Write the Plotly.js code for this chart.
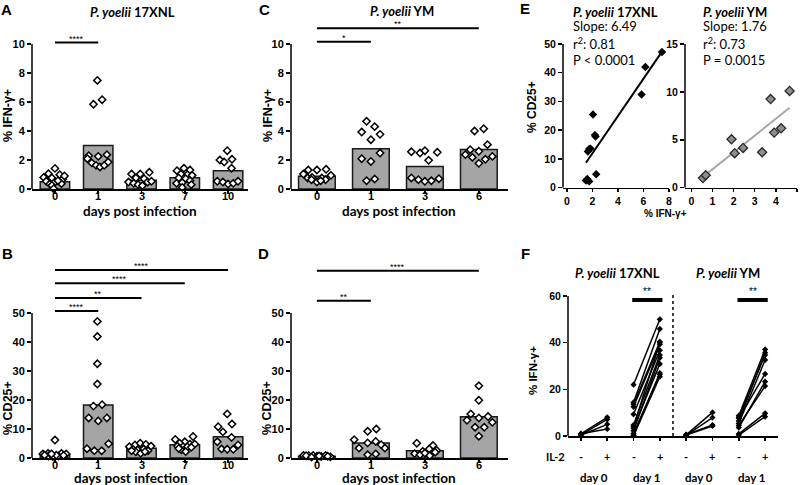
<!DOCTYPE html>
<html><head><meta charset="utf-8">
<script src="https://cdn.plot.ly/plotly-3.0.1.min.js"></script>
<style>html,body{margin:0;padding:0;background:#fff}#chart{width:800px;height:485px}</style>
</head><body><div id="chart"></div>
<script>
// ================= DATA =================
// Panel A : % IFN-g+  P. yoelii 17XNL
const daysA = ['0','1','3','7','10'];
const barsA = [0.5, 3.0, 0.6, 0.78, 1.25];
const valsA = [
 [1.42,1.06,0.99,0.8,0.76,0.67,0.53,0.48,0.37,0.34,0.57,0.25,0.02,0.9],
 [7.49,5.84,6.16,2.3,2.25,2.37,2.09,1.8,1.63,1.52,1.63,1.86],
 [1.03,1.03,1.15,0.76,0.71,0.48,0.39,0.48,0.53,0.3,0.23],
 [1.43,1.26,1.31,1.03,0.99,0.94,0.76,0.71,0.39,0.44,0.57,0.3,0.11],
 [2.64,2.0,1.86,2.05,1.43,0.53,0.48,0.34,0.39,0.53]
];
const jitA = [
 [0,-0.15,0.11,-0.26,-0.07,0.18,-0.2,0,0.15,-0.12,0.07,-0.07,-0.03,0.22],
 [-0.02,-0.11,0.09,-0.22,0,0.2,-0.25,-0.15,-0.05,0.04,0.14,0.23],
 [-0.23,-0.03,0.18,-0.13,0.06,-0.3,-0.18,0.14,0.23,-0.08,0.02],
 [-0.02,-0.18,0.12,-0.09,0.06,0.17,-0.14,0.02,-0.19,-0.06,0.12,0.15,-0.06],
 [-0.02,-0.19,-0.09,0.09,0.08,-0.25,-0.12,0,0.12,0.23]
];
const sigAFrom = [0], sigATo = [1], sigAY = [10.1], sigALab = ['****'];

// Panel B : % CD25+  P. yoelii 17XNL
const daysB = ['0','1','3','7','10'];
const barsB = [1.3, 18.3, 3.4, 4.6, 7.3];
const valsB = [
 [6.2,1.4,1.6,1.6,1.4,0.7,0.5,0.7,1.0,1.0,0.9,1.4],
 [47.1,41.9,32.5,25.5,17.9,18.4,13.8,12.8,13.8,3.2,2.5,2.5,4.9],
 [3.9,4.5,5.1,4.7,4.1,3.0,2.8,3.1,2.5,2.1,1.6,2.2,2.5],
 [7.4,6.4,5.6,5.1,4.8,4.1,3.9,3.9,4.8,2.8,2.2,3.3,3.7],
 [15.2,10.8,11.7,9.0,7.1,5.6,4.5,3.1,3.0,3.0]
];
const jitB = [
 [0,-0.28,-0.16,0.15,0.26,-0.15,-0.05,0.08,-0.24,0.03,0.2,-0.08],
 [-0.02,-0.02,-0.02,-0.02,-0.11,0.09,-0.22,0,0.2,-0.26,-0.09,0.08,0.24],
 [-0.28,-0.15,-0.03,0.1,0.22,-0.2,-0.09,0.05,0.15,-0.13,-0.02,0.08,-0.23],
 [0.19,-0.22,0,-0.12,0.12,-0.17,-0.04,0.06,0.23,-0.08,0.02,-0.14,0.15],
 [-0.02,-0.23,0.09,-0.12,0.08,-0.25,0.23,-0.15,-0.02,0.12]
];
const sigBFrom = [0,0,0,0], sigBTo = [1,2,3,4], sigBY = [50.7,55.2,60.3,64.8];
const sigBLab = ['****','**','****','****'];

// Panel C : % IFN-g+  P. yoelii YM
const daysC = ['0','1','3','6'];
const barsC = [0.88, 2.78, 1.55, 2.72];
const valsC = [
 [1.31,1.31,1.36,1.03,0.94,0.76,0.8,0.76,0.64,0.48,0.57,0.64],
 [4.67,4.3,3.93,3.77,3.4,2.48,2.09,1.9,0.57,0.69],
 [2.57,2.48,2.64,2.53,1.98,0.76,0.64,0.53,0.57,0.71],
 [4.0,4.16,3.06,2.71,2.6,2.37,2.18,2.25,2.05,1.77]
];
const jitC = [
 [-0.16,0,0.17,-0.25,0.26,-0.17,-0.09,0.09,0.16,0,0.07,-0.1],
 [-0.08,0.07,-0.17,0.17,0,0.17,-0.17,0,-0.08,0.07],
 [-0.25,-0.09,0,0.23,0.07,-0.25,-0.12,0,0.12,0.26],
 [-0.08,0.09,0.16,-0.16,0,-0.25,-0.12,0.25,0.12,0]
];
const sigCFrom = [0,0], sigCTo = [1,3], sigCY = [10.16,11.08], sigCLab = ['*','**'];

// Panel D : % CD25+  P. yoelii YM
const daysD = ['0','1','3','6'];
const barsD = [0.6, 5.2, 2.5, 14.2];
const valsD = [
 [0.9,0.8,0.9,0.6,0.5,0.9,0.4,0.8,0.7,0.3,0.6],
 [10.0,9.2,6.3,3.4,5.2,5.7,4.6,3.4,1.1,1.4],
 [5.1,4.3,3.1,2.3,1.5,1.1,2.6,0.8,2.0,1.7],
 [24.9,19.9,15.2,13.0,13.8,14.3,12.3,10.6,10.6,7.5]
];
const jitD = [
 [-0.25,-0.15,-0.07,0,0.08,0.16,0.25,-0.2,0.04,-0.1,0.2],
 [0.1,-0.06,-0.31,-0.22,-0.06,0.09,0.19,0.26,-0.06,0.09],
 [-0.15,0.15,0.08,-0.04,-0.19,-0.09,0.22,0.09,0.19,0],
 [0,0,-0.15,-0.22,0,0.17,0.25,-0.07,0.1,0]
];
const sigDFrom = [0,0], sigDTo = [1,3], sigDY = [54.2,64.6], sigDLab = ['**','****'];

// Panel E : correlation % IFN-g+ vs % CD25+
const e17Ifn  = [7.45,6.15,5.85,2.05,2.2,2.25,1.65,1.75,1.85,2.3,1.5,1.6,1.75];
const e17Cd25 = [47.2,42.0,32.4,25.5,18.3,17.8,12.6,13.5,13.6,4.7,2.5,3.0,2.2];
const eYmIfn  = [0.55,0.68,1.9,2.05,2.45,3.35,3.75,3.92,4.25,4.65];
const eYmCd25 = [1.0,1.3,5.05,3.6,4.15,3.7,9.25,5.75,6.2,10.1];
const e17Stats = ['Slope: 6.49','r<sup>2</sup>: 0.81','P < 0.0001'];
const eYmStats = ['Slope: 1.76','r<sup>2</sup>: 0.73','P = 0.0015'];

// Panel F : % IFN-g+ with / without IL-2
const fSign = ['-','+','-','+','-','+','-','+'];
const fDays = ['day 0','day 1','day 0','day 1'];
const f17d0Pre  = [0.9,0.5,0.3,1.0];
const f17d0Post = [8.0,7.1,5.0,3.0];
const f17d1Pre  = [22.0,14.4,13.6,12.5,9.3,4.7,4.0,3.3,2.3,1.1,0.3,0.1];
const f17d1Post = [50.0,45.9,40.4,39.3,36.7,34.7,40.0,30.9,33.5,26.4,27.0,25.4];
const fYmd0Pre  = [0.5,0.3,0.6,0.4];
const fYmd0Post = [10.1,7.9,4.7,4.3];
const fYmd1Pre  = [8.7,6.4,8.0,5.4,7.6,3.6,4.5,0.9,0.4];
const fYmd1Post = [37.1,35.7,34.7,32.6,26.6,23.3,21.4,9.7,8.3];
const fSigFrom = [2,6], fSigTo = [3,7], fSigY = [58.3,58.3], fSigLab = ['**','**'];

// ================= BUILD =================
const W = 800, H = 485;
const fx = p => p / W;
const fy = p => 1 - p / H;
const BOLD = 'Liberation Sans, Arial, sans-serif';
const LATO = 'Lato, Open Sans, sans-serif';

const traces = [];
const shapes = [];
const annotations = [];

function dotPanel(ax, ay, bars, vals, jit) {
  traces.push({type:'bar', x: bars.map((_, i) => i), y: bars, width: 0.68,
    marker:{color:'#a5a5a5', line:{color:'#1a1a1a', width:1.5}},
    xaxis: ax, yaxis: ay, hoverinfo:'skip'});
  const xs = [], ys = [];
  vals.forEach((g, i) => g.forEach((v, k) => { xs.push(i + jit[i][k]); ys.push(v); }));
  traces.push({type:'scatter', mode:'markers', x: xs, y: ys, cliponaxis:false,
    marker:{symbol:'diamond', size:5.6, color:'#fff', line:{color:'#000', width:1.5}},
    xaxis: ax, yaxis: ay, hoverinfo:'skip'});
}
function sig(ax, ay, from, to, ys, labs, w, fs, shift) {
  ys.forEach((y, i) => {
    shapes.push({type:'line', xref: ax, yref: ay, x0: from[i], x1: to[i], y0: y, y1: y,
      line:{color:'#000', width: w}});
    annotations.push({xref: ax, yref: ay, x: (from[i] + to[i]) / 2, y: y, text: labs[i],
      showarrow:false, yanchor:'middle', yshift: shift, font:{family: BOLD, size: fs, color:'#000'}});
  });
}
function yLine(ax, ay, top) {
  shapes.push({type:'line', xref: ax + ' domain', yref: ay, x0: 0, x1: 0, y0: 0, y1: top,
    line:{color:'#000', width:1.5}});
}
function ann(px, py, text, size, family, extra) {
  annotations.push(Object.assign({xref:'paper', yref:'paper', x: fx(px), y: fy(py), text: text,
    showarrow:false, xanchor:'center', yanchor:'middle',
    font:{family: family, size: size, color:'#000'}}, extra || {}));
}
// category labels placed just under an axis (the axis title sits close below them)
function catLabels(ax, labels, py) {
  labels.forEach((t, i) => annotations.push({xref: ax, yref:'paper', x: i, y: fy(py), text: '<b>' + t + '</b>',
    showarrow:false, yanchor:'middle', borderpad:0, font:{family: BOLD, size: 11, color:'#000'}}));
}

dotPanel('x', 'y', barsA, valsA, jitA);
dotPanel('x2', 'y2', barsB, valsB, jitB);
dotPanel('x3', 'y3', barsC, valsC, jitC);
dotPanel('x4', 'y4', barsD, valsD, jitD);
sig('x', 'y', sigAFrom, sigATo, sigAY, sigALab, 2, 9, 4);
sig('x2', 'y2', sigBFrom, sigBTo, sigBY, sigBLab, 2, 9, 4);
sig('x3', 'y3', sigCFrom, sigCTo, sigCY, sigCLab, 2, 9, 4);
sig('x4', 'y4', sigDFrom, sigDTo, sigDY, sigDLab, 2, 9, 4);
yLine('x', 'y', 10); yLine('x2', 'y2', 50); yLine('x3', 'y3', 10); yLine('x4', 'y4', 50);
catLabels('x', daysA, 196);
catLabels('x3', daysC, 196);
catLabels('x2', daysB, 465);
catLabels('x4', daysD, 465);

// E scatter + least-squares fits
function fit(xs, ys) {
  const n = xs.length, mx = xs.reduce((a, b) => a + b) / n, my = ys.reduce((a, b) => a + b) / n;
  let sxy = 0, sxx = 0;
  xs.forEach((x, i) => { sxy += (x - mx) * (ys[i] - my); sxx += (x - mx) * (x - mx); });
  const b = sxy / sxx, a = my - b * mx;
  const x0 = Math.min(...xs), x1 = Math.max(...xs);
  return {x:[x0, x1], y:[a + b * x0, a + b * x1]};
}
const fit17 = fit(e17Ifn, e17Cd25), fitYm = fit(eYmIfn, eYmCd25);
traces.push({type:'scatter', mode:'lines', x: fit17.x, y: fit17.y, xaxis:'x5', yaxis:'y5',
  line:{color:'#000', width:2}, hoverinfo:'skip'});
traces.push({type:'scatter', mode:'markers', x: e17Ifn, y: e17Cd25, xaxis:'x5', yaxis:'y5', cliponaxis:false,
  marker:{symbol:'diamond', size:6.5, color:'#000'}, hoverinfo:'skip'});
traces.push({type:'scatter', mode:'lines', x: fitYm.x, y: fitYm.y, xaxis:'x6', yaxis:'y6',
  line:{color:'#a8a8a8', width:2}, hoverinfo:'skip'});
traces.push({type:'scatter', mode:'markers', x: eYmIfn, y: eYmCd25, xaxis:'x6', yaxis:'y6', cliponaxis:false,
  marker:{symbol:'diamond', size:7, color:'#8e8e8e', line:{color:'#2a2a2a', width:1.3}}, hoverinfo:'skip'});
yLine('x5', 'y5', 50); yLine('x6', 'y6', 15);

// F paired lines
function pairs(pre, post, c0) {
  const xs = [], ys = [];
  pre.forEach((v, i) => { xs.push(c0, c0 + 1, null); ys.push(v, post[i], null); });
  traces.push({type:'scatter', mode:'lines+markers', x: xs, y: ys, xaxis:'x7', yaxis:'y7', cliponaxis:false,
    line:{color:'#000', width:1.5}, marker:{symbol:'diamond', size:4.8, color:'#000'}, hoverinfo:'skip'});
}
pairs(f17d0Pre, f17d0Post, 0);
pairs(f17d1Pre, f17d1Post, 2);
pairs(fYmd0Pre, fYmd0Post, 4);
pairs(fYmd1Pre, fYmd1Post, 6);
sig('x7', 'y7', fSigFrom.map(v => v - 0.05), fSigTo.map(v => v + 0.1), fSigY, fSigLab, 4, 10, 8);
yLine('x7', 'y7', 60);
shapes.push({type:'line', xref:'x7', yref:'y7', x0:3.5, x1:3.5, y0:0, y1:60.5,
  line:{color:'#000', width:1.5, dash:'dot'}});
fSign.forEach((s, i) => annotations.push({xref:'x7', yref:'paper', x: i, y: fy(456), text: '<b>' + s + '</b>',
  showarrow:false, yanchor:'middle', font:{family: LATO, size: 11, color:'#000'}}));
fDays.forEach((d, i) => annotations.push({xref:'x7', yref:'paper', x: 2 * i + 0.5, y: fy(477), text: '<b>' + d + '</b>',
  showarrow:false, yanchor:'middle', borderpad:0, font:{family: LATO, size: 11.5, color:'#000'}}));

// Text annotations (letters, titles, axis titles)
[['A', 6, 9], ['B', 7, 253], ['C', 264, 9], ['D', 263, 253], ['E', 525, 8], ['F', 525, 253]]
  .forEach(l => ann(l[1], l[2], '<b>' + l[0] + '</b>', 15, BOLD));
ann(132, 12, '<b><i>P. yoelii</i> 17XNL</b>', 13, LATO);
ann(402, 11, '<b><i>P. yoelii</i> YM</b>', 13, LATO);
const xtitle = {borderpad:0};
ann(140, 211, '<b>days post infection</b>', 13.5, LATO, xtitle);
ann(399, 211, '<b>days post infection</b>', 13.5, LATO, xtitle);
ann(131, 477.5, '<b>days post infection</b>', 13.5, LATO, xtitle);
ann(399, 477.5, '<b>days post infection</b>', 13.5, LATO, xtitle);
ann(8, 116, '<b>% IFN-γ+</b>', 12.5, BOLD, {textangle:-90});
ann(8, 408, '<b>% CD25+</b>', 12.5, BOLD, {textangle:-90});
ann(268, 116, '<b>% IFN-γ+</b>', 12.5, BOLD, {textangle:-90});
ann(267, 408, '<b>% CD25+</b>', 12.5, BOLD, {textangle:-90});
ann(532, 107, '<b>% CD25+</b>', 12, BOLD, {textangle:-90});
ann(665, 213, '<b>% IFN-γ+</b>', 10, BOLD);
ann(533, 371, '<b>% IFN-γ+</b>', 11.5, BOLD, {textangle:-90});
ann(617, 273, '<b><i>P. yoelii</i> 17XNL</b>', 13, LATO);
ann(728, 273, '<b><i>P. yoelii</i> YM</b>', 13, LATO);
ann(555, 456, '<b>IL-2</b>', 11, LATO);
// E stats
const estat = {xanchor:'left', borderpad:0};
ann(572, 11.5, '<b><i>P. yoelii</i> 17XNL</b>', 13, LATO, estat);
ann(702, 11.5, '<b><i>P. yoelii</i> YM</b>', 13, LATO, estat);
const statY = [26, 43, 60];
e17Stats.forEach((t, i) => ann(572, statY[i], t, 13, LATO, estat));
eYmStats.forEach((t, i) => ann(702, statY[i], t, 13, LATO, estat));

// ================= AXES =================
function xAx(d0, d1, range, anchor, tv, tt, fs) {
  return {domain:[fx(d0), fx(d1)], range: range, anchor: anchor, tickvals: tv, ticktext: tt,
    showline:true, linecolor:'#000', linewidth:1.5, ticks:'outside', ticklen:3, tickwidth:1.5,
    tickcolor:'#000', showgrid:false, zeroline:false, fixedrange:true,
    tickfont:{family: BOLD, size: fs, color:'#000', weight:'bold'}};
}
function yAx(bottom, top, range, anchor, tv, fs) {
  return {domain:[fy(bottom), fy(top)], range: range, anchor: anchor, tickvals: tv,
    showline:false, ticks:'outside', ticklen:4, tickwidth:1.5, tickcolor:'#000',
    showgrid:false, zeroline:false, fixedrange:true,
    tickfont:{family: BOLD, size: fs, color:'#000', weight:'bold'}};
}
const idx = a => a.map((_, i) => i);
const yTop = (pb, pv, v, pt) => v * (pb - pt) / (pb - pv);
function catAx(d0, d1, range, anchor, labels) {
  const a = xAx(d0, d1, range, anchor, idx(labels), labels, 11);
  a.showticklabels = false;   // labels drawn as annotations (see catLabels)
  return a;
}

const layout = {
  width: 800, height: 485, margin:{l:0, r:0, t:0, b:0}, showlegend:false,
  paper_bgcolor:'#fff', plot_bgcolor:'rgba(0,0,0,0)',
  font:{family: BOLD, color:'#000'},
  xaxis:  catAx(32, 248, [-0.53, 4.46], 'y', daysA),
  yaxis:  yAx(189, 30, [0, yTop(189, 44, 10, 30)], 'x', [0,2,4,6,8,10], 11),
  xaxis2: catAx(32, 248, [-0.53, 4.46], 'y2', daysB),
  yaxis2: yAx(458, 260, [0, yTop(458, 313, 50, 260)], 'x2', [0,10,20,30,40,50], 11),
  xaxis3: catAx(291, 508, [-0.48, 3.54], 'y3', daysC),
  yaxis3: yAx(189, 20, [0, yTop(189, 44, 10, 20)], 'x3', [0,2,4,6,8,10], 11),
  xaxis4: catAx(291, 508, [-0.48, 3.54], 'y4', daysD),
  yaxis4: yAx(458, 260, [0, yTop(458, 313, 50, 260)], 'x4', [0,10,20,30,40,50], 11),
  xaxis5: xAx(563, 669, [-0.3, 8], 'y5', [0,2,4,6,8], ['0','2','4','6','8'], 10.5),
  yaxis5: yAx(187.7, 40, [0, yTop(187.7, 44, 50, 40)], 'x5', [0,10,20,30,40,50], 10.5),
  xaxis6: xAx(685, 797, [-0.3, 5], 'y6', [0,1,2,3,4,5], ['0','1','2','3','4','5'], 10.5),
  yaxis6: yAx(187.7, 40, [0, yTop(187.7, 44, 15, 40)], 'x6', [0,5,10,15], 10.5),
  xaxis7: catAx(568, 778, [-0.49, 7.49], 'y7', fSign),
  yaxis7: yAx(436, 288, [0, yTop(436, 296, 60, 288)], 'x7', [0,20,40,60], 10.5),
  shapes: shapes, annotations: annotations
};

Plotly.newPlot('chart', traces, layout, {displayModeBar:false, staticPlot:true});
</script></body></html>
